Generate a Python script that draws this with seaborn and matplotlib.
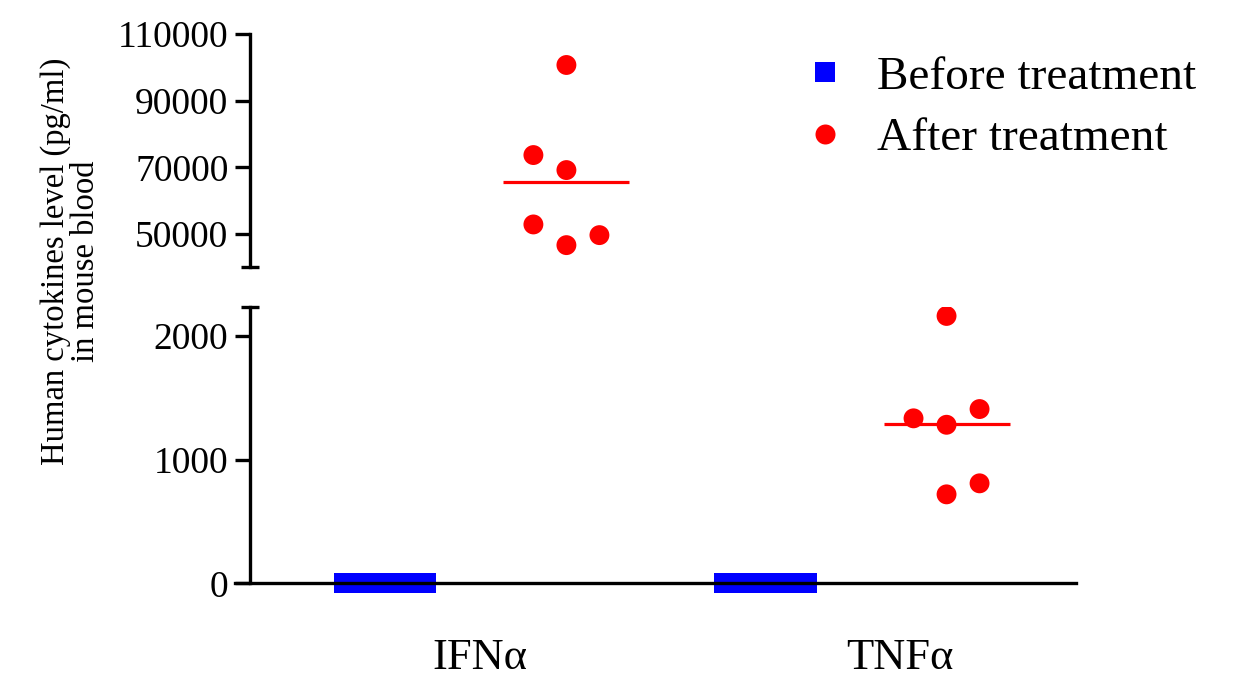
import numpy as np
import pandas as pd
import matplotlib
matplotlib.use("Agg")
import matplotlib.pyplot as plt
import seaborn as sns

# data
cytokines = ["IFN\u03b1", "TNF\u03b1"]
ifn_before = [0, 0, 0, 0, 0, 0]
ifn_after = [100700, 73700, 69200, 52900, 46700, 49700]
tnf_before = [0, 0, 0, 0, 0, 0]
tnf_after = [2160, 1333, 1281, 1408, 719, 808]
group_labels = ["Before treatment", "After treatment"]

# layout: where each column sits relative to its category label, and point slots
col_center = {("IFN\u03b1", "Before treatment"): -0.226, ("IFN\u03b1", "After treatment"): 0.206,
              ("TNF\u03b1", "Before treatment"): -0.321, ("TNF\u03b1", "After treatment"): 0.111}
before_slots = [-2.5, -1.5, -0.5, 0.5, 1.5, 2.5]
ifn_after_slots = [0, -1, 0, -1, 0, 1]
tnf_after_slots = [0, -1, 0, 1, 0, 1]
slot_w = {"Before treatment": 0.0395, "After treatment": 0.0786}

rows = []
series = [("IFN\u03b1", "Before treatment", ifn_before, before_slots),
          ("IFN\u03b1", "After treatment", ifn_after, ifn_after_slots),
          ("TNF\u03b1", "Before treatment", tnf_before, before_slots),
          ("TNF\u03b1", "After treatment", tnf_after, tnf_after_slots)]
for cyt, grp, vals, slots in series:
    base = cytokines.index(cyt) + col_center[(cyt, grp)]
    for v, s in zip(vals, slots):
        rows.append({"cytokine": cyt, "group": grp, "value": v, "x": base + s * slot_w[grp]})
df = pd.DataFrame(rows)

sns.set_style("ticks")
plt.rcParams["font.family"] = ["Liberation Serif", "DejaVu Serif"]
plt.rcParams.update({"text.color": "black", "axes.edgecolor": "black",
                     "xtick.color": "black", "ytick.color": "black",
                     "axes.labelcolor": "black"})

fig = plt.figure(figsize=(12.33, 6.82), dpi=100)
ax_top = fig.add_axes([0.1906, 0.6078, 0.682, 0.3424])
ax_bot = fig.add_axes([0.1906, 0.1174, 0.682, 0.4324])

palette = {"Before treatment": "#0000ff", "After treatment": "#ff0000"}
markers = {"Before treatment": "s", "After treatment": "o"}

for ax in (ax_top, ax_bot):
    sns.scatterplot(data=df, x="x", y="value", hue="group", style="group",
                    palette=palette, markers=markers, s=205, linewidth=0,
                    hue_order=group_labels, style_order=group_labels, ax=ax)
    # mean lines for the treated group
    for cyt in cytokines:
        sub = df[(df.cytokine == cyt) & (df.group == "After treatment")]
        c = cytokines.index(cyt) + col_center[(cyt, "After treatment")]
        ax.hlines(sub.value.mean(), c - 0.15, c + 0.15, color="#ff0000", lw=2.3)
    ax.set_xlim(-0.583, 1.419)
    ax.set_xlabel("")
    ax.set_ylabel("")
    for sp in ("top", "right"):
        ax.spines[sp].set_visible(False)
    for sp in ax.spines.values():
        sp.set_linewidth(2.4)
    ax.spines["left"].set_position(("axes", 0.0178))
    ax.tick_params(axis="y", which="major", length=10.5, width=2.4, pad=5,
                   labelsize=27, direction="out", colors="black")
    ax.tick_params(axis="y", which="minor", length=13.5, width=2.4, direction="inout")

handles, labels = ax_top.get_legend_handles_labels()
ax_top.get_legend().remove()
ax_bot.get_legend().remove()

# top part of the broken axis
ax_top.set_ylim(40000, 110000)
ax_top.set_yticks([50000, 70000, 90000, 110000])
ax_top.set_yticks([40000], minor=True)
ax_top.spines["bottom"].set_visible(False)
ax_top.tick_params(axis="x", bottom=False, labelbottom=False)

# bottom part
ax_bot.set_ylim(-150, 2232)
ax_bot.set_yticks([0, 1000, 2000])
ax_bot.set_yticks([2232], minor=True)
ax_bot.spines["left"].set_bounds(0, 2232)
ax_bot.spines["bottom"].set_position(("data", 0))
ax_bot.set_xticks([0, 1])
ax_bot.set_xticklabels(cytokines)
ax_bot.tick_params(axis="x", length=0, pad=39, labelsize=32, colors="black")

for h in handles:
    h.set_markersize(14.4)
    h.set_markeredgewidth(0)
fig.legend(handles, labels, loc="upper left", bbox_to_anchor=(0.6515, 0.918),
           frameon=False, fontsize=34, handlelength=0.92, handletextpad=0.64,
           labelspacing=0.39, borderpad=0, borderaxespad=0)

fig.text(0.057, 0.617, "Human cytokines level (pg/ml)\nin mouse blood", rotation=90,
         ha="center", va="center", fontsize=23.5, linespacing=0.98)

fig.savefig("out.png", dpi=100)
